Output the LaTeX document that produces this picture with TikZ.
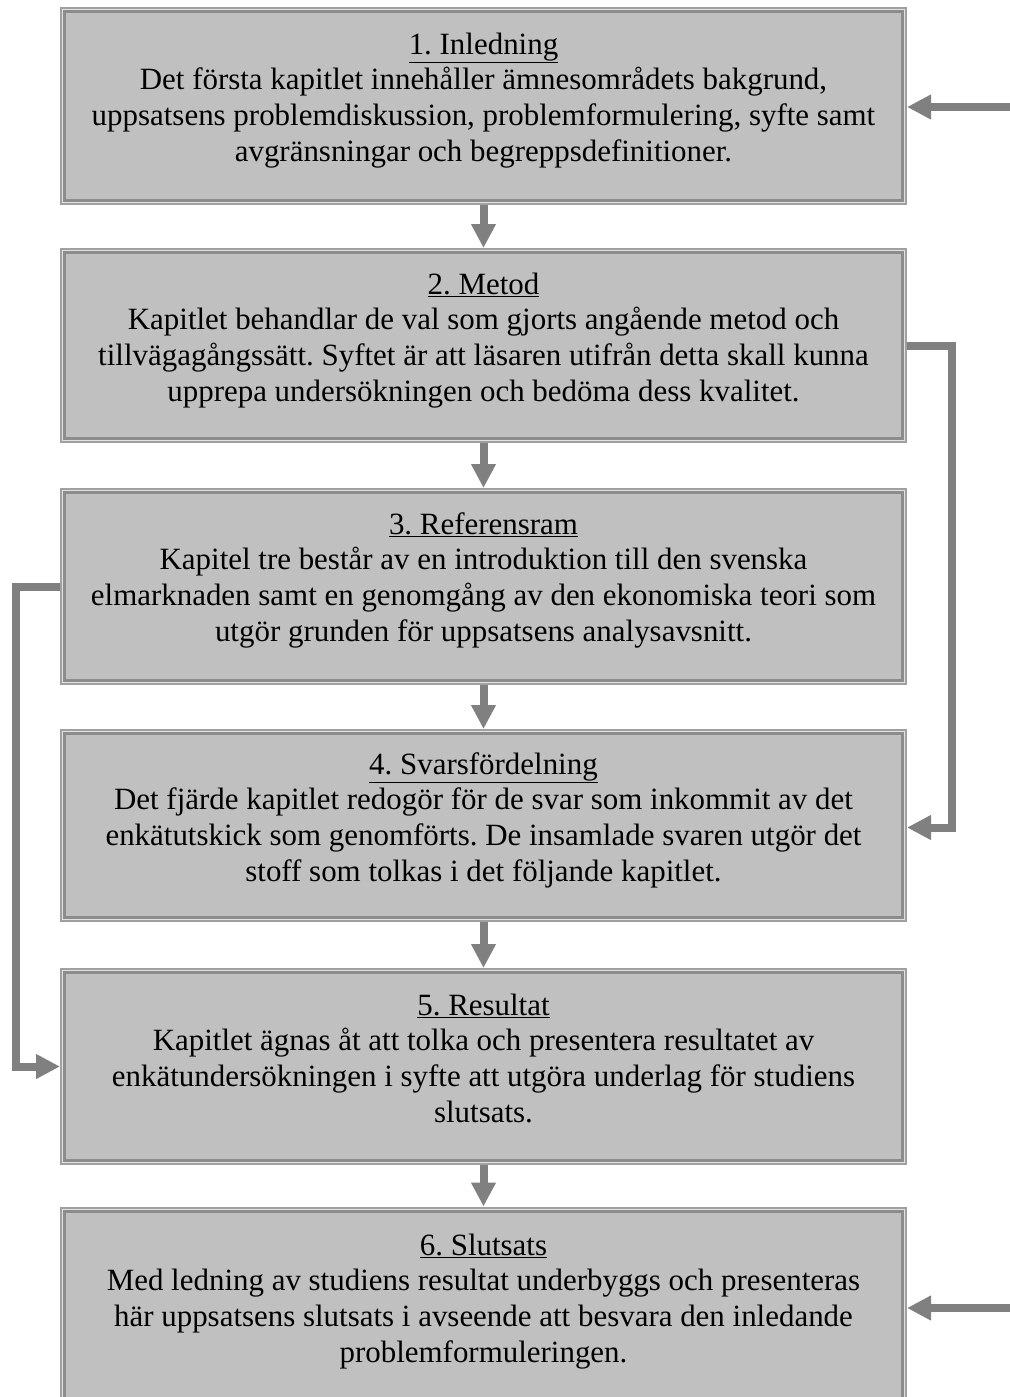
\documentclass[tikz,border=0pt]{standalone}
\usepackage{fontspec}
\setmainfont{Liberation Serif}
\frenchspacing
\usetikzlibrary{arrows.meta}
\definecolor{boxfill}{HTML}{C0C0C0}
\definecolor{edgeout}{HTML}{A0A0A0}
\definecolor{edgegap}{HTML}{E2E2E2}
\definecolor{edgein}{HTML}{8C8C8C}
\definecolor{arr}{HTML}{808080}
\begin{document}
\begin{tikzpicture}[x=0.75pt,y=-0.75pt,
  outerbox/.style={rectangle, draw=edgeout, fill=edgegap, line width=1.5pt, inner sep=0pt, minimum width=633.75pt},
  innerline/.style={draw=edgein, fill=boxfill, line width=2.25pt},
  txt/.style={align=center, inner sep=0pt, anchor=base, font=\fontsize{23.2pt}{26.7pt}\selectfont\frenchspacing},
  conn/.style={draw=arr, line width=6pt, line join=miter, -{Triangle[length=18pt,width=17.5pt]}}]
\useasboundingbox (0,0) rectangle (1010,1397);
% boxes
\node[outerbox, minimum height=147pt]   (b1) at (483.5,106) {};
\node[outerbox, minimum height=144.75pt] (b2) at (483.5,345.5) {};
\node[outerbox, minimum height=146.25pt] (b3) at (483.5,586.5) {};
\node[outerbox, minimum height=143.25pt] (b4) at (483.5,825.5) {};
\node[outerbox, minimum height=146.25pt] (b5) at (483.5,1066.5) {};
\node[outerbox, minimum height=146.25pt] (b6) at (483.5,1305) {};
\foreach \b in {b1,b2,b3,b4,b5,b6}
  \draw[innerline] ([shift={(4.5,4.5)}]\b.north west) rectangle ([shift={(-4.5,-4.5)}]\b.south east);
% titles
\node[txt] (h1) at (483.5,54) {\underline{1. Inledning}};
\node[txt] (h2) at (483.5,294) {\underline{2. Metod}};
\node[txt] (h3) at (483.5,534) {\underline{3. Referensram}};
\node[txt] (h4) at (483.5,774) {\underline{4. Svarsfördelning}};
\node[txt] (h5) at (483.5,1015) {\underline{5. Resultat}};
\node[txt] (h6) at (483.5,1255) {\underline{6. Slutsats}};
% body texts (anchored at the baseline of the last line)
\node[txt] (t1) at (483.5,161) {Det första kapitlet innehåller ämnesområdets bakgrund,\\uppsatsens problemdiskussion, problemformulering, syfte samt\\avgränsningar och begreppsdefinitioner.};
\node[txt] (t2) at (483.5,401) {Kapitlet behandlar de val som gjorts angående metod och\\tillvägagångssätt. Syftet är att läsaren utifrån detta skall kunna\\upprepa undersökningen och bedöma dess kvalitet.};
\node[txt] (t3) at (483.5,641) {Kapitel tre består av en introduktion till den svenska\\elmarknaden samt en genomgång av den ekonomiska teori som\\utgör grunden för uppsatsens analysavsnitt.};
\node[txt] (t4) at (483.5,881) {Det fjärde kapitlet redogör för de svar som inkommit av det\\enkätutskick som genomförts. De insamlade svaren utgör det\\stoff som tolkas i det följande kapitlet.};
\node[txt] (t5) at (483.5,1122) {Kapitlet ägnas åt att tolka och presentera resultatet av\\enkätundersökningen i syfte att utgöra underlag för studiens\\slutsats.};
\node[txt] (t6) at (483.5,1362) {Med ledning av studiens resultat underbyggs och presenteras\\här uppsatsens slutsats i avseende att besvara den inledande\\problemformuleringen.};
% connectors
\coordinate (e1) at (1010,107);
\coordinate (e6) at (1010,1308);
\draw[conn] (e1) -- (e1 -| b1.east);
\draw[conn] (e6) -- (e6 -| b6.east);
\draw[conn] (b1.south) -- (b2.north);
\draw[conn] (b2.south) -- (b3.north);
\draw[conn] (b3.south) -- (b4.north);
\draw[conn] (b4.south) -- (b5.north);
\draw[conn] (b5.south) -- (b6.north);
\draw[conn] (b2.east) -- ++(44.5,0) |- ([yshift=-1.5pt]b4.east);
\draw[conn] (b3.west) -- ++(-44.5,0) |- (b5.west);
\end{tikzpicture}
\end{document}
